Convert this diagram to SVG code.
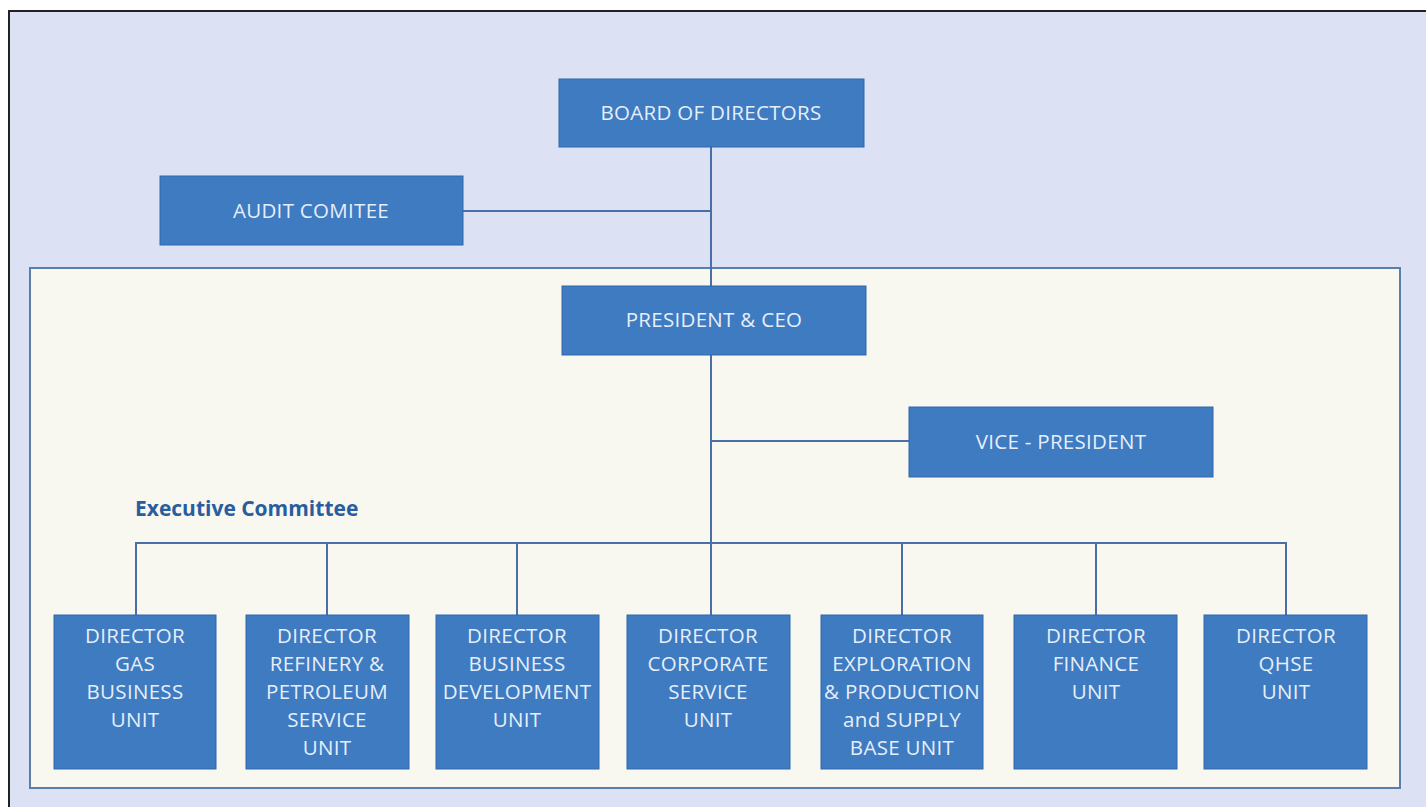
<svg xmlns="http://www.w3.org/2000/svg" width="1426" height="807" viewBox="0 0 1426 807">
<style>
.box{fill:#3e7bc1;stroke:#2f68ad;stroke-width:1}
.t{font-family:"Open Sans","Liberation Sans",sans-serif;font-size:20.5px;letter-spacing:0.3px;fill:#e6eefa;text-anchor:middle}
.c{stroke:#4a6ea6;stroke-width:2;fill:none}
</style>
<rect x="0" y="0" width="1426" height="807" fill="#ffffff"/>
<rect x="9" y="11" width="1430" height="810" fill="#dce2f3" stroke="#222" stroke-width="2"/>
<rect x="30" y="268" width="1370" height="520" fill="#f8f8f1" stroke="#5a7eab" stroke-width="2"/>
<g id="connectors">
<path class="c" d="M711 147V615"/>
<path class="c" d="M463 211H711"/>
<path class="c" d="M711 441H909"/>
<path class="c" d="M136 615V543H1286V615"/>
<path class="c" d="M327 543V615M517 543V615M902 543V615M1096 543V615"/>
</g>
<g id="board"><rect class="box" x="559" y="79" width="305" height="68"/><text class="t" x="711" y="120">BOARD OF DIRECTORS</text></g>
<g id="audit"><rect class="box" x="160" y="176" width="303" height="69"/><text class="t" x="311" y="218">AUDIT COMITEE</text></g>
<g id="president"><rect class="box" x="562" y="286" width="304" height="69"/><text class="t" x="714" y="327">PRESIDENT &amp; CEO</text></g>
<g id="vp"><rect class="box" x="909" y="407" width="304" height="70"/><text class="t" x="1061" y="449">VICE - PRESIDENT</text></g>
<text id="exec-label" x="135" y="516" font-family="'Open Sans','Liberation Sans',sans-serif" font-size="21" font-weight="bold" fill="#2a5d9e">Executive Committee</text>
<g id="gas"><rect class="box" x="54" y="615" width="162" height="154"/><text class="t"><tspan x="135" y="643">DIRECTOR</tspan><tspan x="135" y="671">GAS</tspan><tspan x="135" y="699">BUSINESS</tspan><tspan x="135" y="727">UNIT</tspan></text></g>
<g id="refinery"><rect class="box" x="246" y="615" width="163" height="154"/><text class="t"><tspan x="327" y="643">DIRECTOR</tspan><tspan x="327" y="671">REFINERY &amp;</tspan><tspan x="327" y="699">PETROLEUM</tspan><tspan x="327" y="727">SERVICE</tspan><tspan x="327" y="755">UNIT</tspan></text></g>
<g id="bizdev"><rect class="box" x="436" y="615" width="163" height="154"/><text class="t"><tspan x="517" y="643">DIRECTOR</tspan><tspan x="517" y="671">BUSINESS</tspan><tspan x="517" y="699">DEVELOPMENT</tspan><tspan x="517" y="727">UNIT</tspan></text></g>
<g id="corporate"><rect class="box" x="627" y="615" width="163" height="154"/><text class="t"><tspan x="708" y="643">DIRECTOR</tspan><tspan x="708" y="671">CORPORATE</tspan><tspan x="708" y="699">SERVICE</tspan><tspan x="708" y="727">UNIT</tspan></text></g>
<g id="exploration"><rect class="box" x="821" y="615" width="162" height="154"/><text class="t"><tspan x="902" y="643">DIRECTOR</tspan><tspan x="902" y="671">EXPLORATION</tspan><tspan x="902" y="699">&amp; PRODUCTION</tspan><tspan x="902" y="727">and SUPPLY</tspan><tspan x="902" y="755">BASE UNIT</tspan></text></g>
<g id="finance"><rect class="box" x="1014" y="615" width="163" height="154"/><text class="t"><tspan x="1096" y="643">DIRECTOR</tspan><tspan x="1096" y="671">FINANCE</tspan><tspan x="1096" y="699">UNIT</tspan></text></g>
<g id="qhse"><rect class="box" x="1204" y="615" width="163" height="154"/><text class="t"><tspan x="1286" y="643">DIRECTOR</tspan><tspan x="1286" y="671">QHSE</tspan><tspan x="1286" y="699">UNIT</tspan></text></g>
</svg>
